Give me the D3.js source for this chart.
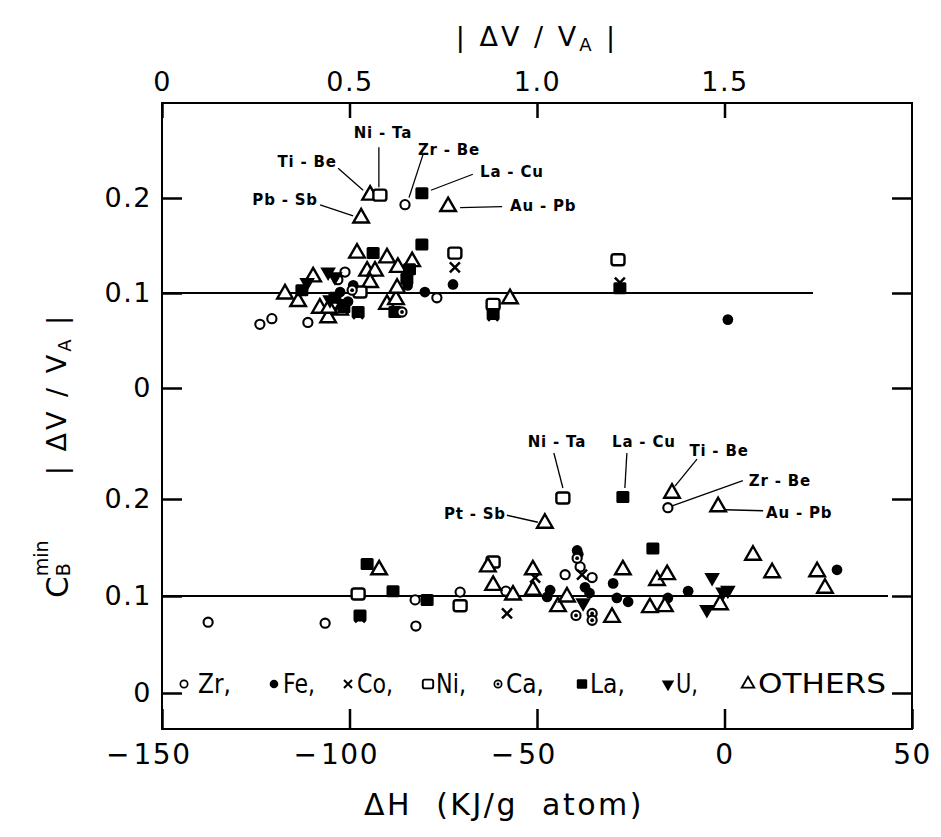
<!DOCTYPE html>
<html>
<head>
<meta charset="utf-8">
<script src="https://cdn.jsdelivr.net/npm/d3@7"></script>
<style>
  body { margin: 0; background: #fff; }
  text { font-family: "DejaVu Sans", sans-serif; fill: #000; }
</style>
</head>
<body>
<div id="chart"></div>
<script>
// ---- data ----
// upper panel: [ |dV/VA| , CB min , solvent ]
const upperPoints = [
  [0.555, 0.203, "Other"], [0.531, 0.179, "Other"], [0.763, 0.191, "Other"],
  [0.520, 0.142, "Other"], [0.600, 0.137, "Other"], [0.629, 0.127, "Other"],
  [0.667, 0.133, "Other"], [0.403, 0.117, "Other"], [0.547, 0.123, "Other"],
  [0.568, 0.123, "Other"], [0.555, 0.111, "Other"], [0.328, 0.099, "Other"],
  [0.363, 0.091, "Other"], [0.600, 0.088, "Other"], [0.624, 0.093, "Other"],
  [0.627, 0.105, "Other"], [0.475, 0.082, "Other"], [0.443, 0.074, "Other"],
  [0.421, 0.084, "Other"], [0.445, 0.084, "Other"], [0.928, 0.094, "Other"],
  [0.581, 0.203, "Ni"], [0.528, 0.101, "Ni"], [0.781, 0.142, "Ni"],
  [0.883, 0.088, "Ni"], [1.216, 0.135, "Ni"],
  [0.648, 0.193, "Zr"], [0.488, 0.122, "Zr"], [0.469, 0.114, "Zr"],
  [0.733, 0.095, "Zr"], [0.261, 0.067, "Zr"], [0.293, 0.073, "Zr"],
  [0.389, 0.069, "Zr"],
  [0.701, 0.101, "Fe"], [0.776, 0.109, "Fe"], [1.509, 0.072, "Fe"],
  [0.475, 0.101, "Fe"], [0.496, 0.091, "Fe"], [0.510, 0.108, "Fe"],
  [0.655, 0.108, "Fe"],
  [0.693, 0.205, "La"], [0.563, 0.142, "La"], [0.693, 0.151, "La"],
  [0.653, 0.115, "La"], [0.660, 0.125, "La"], [0.373, 0.103, "La"],
  [0.461, 0.095, "La"], [0.621, 0.080, "La"], [0.485, 0.085, "La"],
  [0.523, 0.080, "La"], [1.221, 0.105, "La"], [0.883, 0.078, "La"],
  [0.523, 0.078, "Co"], [0.781, 0.127, "Co"], [0.883, 0.076, "Co"],
  [1.221, 0.111, "Co"], [0.475, 0.087, "Co"],
  [0.640, 0.080, "Ca"], [0.507, 0.103, "Ca"],
  [0.443, 0.122, "U"], [0.461, 0.117, "U"], [0.387, 0.111, "U"],
  [0.488, 0.089, "U"], [0.448, 0.093, "U"]
];

// lower panel: [ dH (kJ/g atom) , CB min , solvent ]
const lowerPoints = [
  [-43.1, 0.201, "Ni"], [-27.1, 0.202, "La"], [-14.0, 0.206, "Other"],
  [-15.1, 0.191, "Zr"], [-1.7, 0.192, "Other"], [-47.9, 0.175, "Other"],
  [-137.7, 0.073, "Zr"], [-106.5, 0.072, "Zr"], [-82.5, 0.096, "Zr"],
  [-82.3, 0.069, "Zr"], [-70.5, 0.104, "Zr"], [-58.3, 0.105, "Zr"],
  [-42.5, 0.122, "Zr"], [-38.5, 0.130, "Zr"], [-35.3, 0.119, "Zr"],
  [-47.3, 0.099, "Fe"], [-46.5, 0.106, "Fe"], [-39.3, 0.147, "Fe"],
  [-39.0, 0.143, "Fe"], [-37.2, 0.109, "Fe"], [-36.0, 0.103, "Fe"],
  [-29.7, 0.113, "Fe"], [-28.7, 0.098, "Fe"], [-25.7, 0.094, "Fe"],
  [-15.1, 0.098, "Fe"], [-9.7, 0.105, "Fe"], [30.0, 0.127, "Fe"],
  [-58.0, 0.082, "Co"], [-38.0, 0.122, "Co"], [-50.5, 0.119, "Co"],
  [-97.2, 0.078, "Co"],
  [-97.7, 0.102, "Ni"], [-70.5, 0.090, "Ni"], [-61.7, 0.135, "Ni"],
  [-39.3, 0.139, "Ca"], [-39.6, 0.080, "Ca"], [-35.3, 0.082, "Ca"],
  [-35.3, 0.075, "Ca"],
  [-95.3, 0.133, "La"], [-88.4, 0.105, "La"], [-79.3, 0.096, "La"],
  [-19.1, 0.149, "La"], [-97.2, 0.080, "La"],
  [-3.3, 0.119, "U"], [-0.4, 0.104, "U"], [0.9, 0.106, "U"],
  [-4.7, 0.086, "U"], [-37.7, 0.093, "U"],
  [-92.1, 0.127, "Other"], [-63.1, 0.130, "Other"], [-61.7, 0.111, "Other"],
  [-56.4, 0.101, "Other"], [-51.1, 0.127, "Other"], [-51.1, 0.106, "Other"],
  [-44.4, 0.089, "Other"], [-42.0, 0.099, "Other"], [-27.1, 0.127, "Other"],
  [-30.0, 0.078, "Other"], [-19.9, 0.088, "Other"], [-18.0, 0.116, "Other"],
  [-15.3, 0.122, "Other"], [-15.9, 0.089, "Other"], [-1.2, 0.091, "Other"],
  [7.6, 0.142, "Other"], [12.7, 0.124, "Other"], [24.7, 0.125, "Other"],
  [26.8, 0.108, "Other"]
];

// labelled systems: [ text, x value, CB min ]
const upperNotes = [
  ["Ni - Ta", 0.581, 0.203], ["Ti - Be", 0.555, 0.203], ["Pb - Sb", 0.531, 0.179],
  ["Zr - Be", 0.648, 0.193], ["La - Cu", 0.693, 0.205], ["Au - Pb", 0.763, 0.191]
];
const lowerNotes = [
  ["Pt - Sb", -47.9, 0.175], ["Ni - Ta", -43.1, 0.201], ["La - Cu", -27.1, 0.202],
  ["Ti - Be", -14.0, 0.206], ["Zr - Be", -15.1, 0.191], ["Au - Pb", -1.7, 0.192]
];

// fitted CB min level lines: [ from, to, CB min ]
const upperLevel = [0, 1.736, 0.1];
const lowerLevel = [-150, 43.6, 0.1];

const topTicks = [0, 0.5, 1.0, 1.5];
const topTickLabels = ["0", "0.5", "1.0", "1.5"];
const bottomTicks = [-150, -100, -50, 0, 50];
const cTicks = [0, 0.1, 0.2];
const cTickLabels = ["0", "0.1", "0.2"];

const legendTypes = ["Zr", "Fe", "Co", "Ni", "Ca", "La", "U", "Other"];
const legendNames = ["Zr,", "Fe,", "Co,", "Ni,", "Ca,", "La,", "U,", "OTHERS"];

// ---- layout ----
const W = 941, H = 837;
const frame = { left: 162, right: 912, top: 103, bottom: 729 };

const svg = d3.select("#chart").append("svg")
    .attr("width", W).attr("height", H);

const xTop = d3.scaleLinear().domain([0, 2]).range([frame.left, frame.right]);
const xBot = d3.scaleLinear().domain([-150, 50]).range([frame.left, frame.right]);
const yUp = d3.scaleLinear().domain([0, 0.2]).range([388, 198]);
const yLo = d3.scaleLinear().domain([0, 0.2]).range([693, 499]);

// marker drawing
const tri = d3.symbol().type(d3.symbolTriangle).size(105)();
const circ = d3.symbol().type(d3.symbolCircle).size(66)();
const dot = d3.symbol().type(d3.symbolCircle).size(90)();
function marker(g, type) {
  if (type === "Zr") {
    g.append("path").attr("d", circ).attr("fill", "#fff").attr("stroke", "#000").attr("stroke-width", 2.1);
  } else if (type === "Fe") {
    g.append("path").attr("d", dot).attr("fill", "#000");
  } else if (type === "Co") {
    g.append("path").attr("d", "M-5,-5L5,5M-5,5L5,-5").attr("stroke", "#000").attr("stroke-width", 2.5);
  } else if (type === "Ni") {
    g.append("rect").attr("x", -6.5).attr("y", -5.5).attr("width", 13).attr("height", 11).attr("rx", 2.5)
      .attr("fill", "#fff").attr("stroke", "#000").attr("stroke-width", 2.4);
  } else if (type === "Ca") {
    g.append("path").attr("d", circ).attr("fill", "#fff").attr("stroke", "#000").attr("stroke-width", 2.1);
    g.append("circle").attr("r", 1.9).attr("fill", "#000");
  } else if (type === "La") {
    g.append("rect").attr("x", -6.5).attr("y", -6).attr("width", 13).attr("height", 12).attr("rx", 1.5).attr("fill", "#000");
  } else if (type === "U") {
    g.append("path").attr("d", tri).attr("transform", "rotate(180)").attr("fill", "#000");
  } else {
    g.append("path").attr("d", tri).attr("fill", "#fff").attr("stroke", "#000").attr("stroke-width", 2.4);
  }
}

// level lines
svg.append("line")
    .attr("x1", xTop(upperLevel[0])).attr("x2", xTop(upperLevel[1]))
    .attr("y1", yUp(upperLevel[2])).attr("y2", yUp(upperLevel[2]))
    .attr("stroke", "#000").attr("stroke-width", 2);
svg.append("line")
    .attr("x1", xBot(lowerLevel[0])).attr("x2", xBot(lowerLevel[1]))
    .attr("y1", yLo(lowerLevel[2])).attr("y2", yLo(lowerLevel[2]))
    .attr("stroke", "#000").attr("stroke-width", 2);

// frame
svg.append("rect")
    .attr("x", frame.left).attr("y", frame.top)
    .attr("width", frame.right - frame.left).attr("height", frame.bottom - frame.top)
    .attr("fill", "none").attr("stroke", "#000").attr("stroke-width", 2);

function styleAxis(g, size) {
  g.select(".domain").remove();
  g.selectAll(".tick line").attr("stroke", "#000").attr("stroke-width", 2.5);
  g.selectAll(".tick text").attr("font-size", size).attr("letter-spacing", 1.5)
      .style("font-family", "DejaVu Sans");
}

// top axis |dV/VA|
const gTop = svg.append("g").attr("transform", `translate(0,${frame.top})`)
    .call(d3.axisTop(xTop).tickValues(topTicks).tickSize(-15).tickPadding(12)
      .tickFormat((d, i) => topTickLabels[i]));
styleAxis(gTop, 27);

// bottom axis dH
const gBot = svg.append("g").attr("transform", `translate(0,${frame.bottom})`)
    .call(d3.axisBottom(xBot).tickValues(bottomTicks).tickSize(-20).tickPadding(8)
      .tickFormat(d => Math.abs(d)));
styleAxis(gBot, 28);
gBot.selectAll(".tick text").attr("dy", "0.95em");
gBot.selectAll(".tick").each(function(d) {
  if (d >= 0) return;
  const t = d3.select(this).select("text");
  const w = t.node().getComputedTextLength();
  d3.select(this).append("text")
      .attr("x", -w / 2 - 4).attr("y", 8).attr("dy", "0.95em")
      .attr("text-anchor", "end").attr("font-size", 28)
      .text("\u2212");
});

// left and right axes, both panels
[yUp, yLo].forEach(y => {
  const gl = svg.append("g").attr("transform", `translate(${frame.left},0)`)
      .call(d3.axisLeft(y).tickValues(cTicks).tickSize(-20).tickPadding(10)
        .tickFormat((d, i) => cTickLabels[i]));
  styleAxis(gl, 27);
  const gr = svg.append("g").attr("transform", `translate(${frame.right},0)`)
      .call(d3.axisRight(y).tickValues(cTicks).tickSize(-20).tickFormat(""));
  styleAxis(gr, 27);
});

// points
function drawPoints(data, x, y) {
  svg.append("g").selectAll("g.pt")
    .data(data)
    .enter().append("g")
      .attr("class", "pt")
      .attr("transform", d => `translate(${x(d[0])},${y(d[1])})`)
      .each(function(d) { marker(d3.select(this), d[2]); });
}
drawPoints(upperPoints, xTop, yUp);
drawPoints(lowerPoints, xBot, yLo);

// annotation placement: text centre offset and leader offsets (px, from the point)
const upperNoteLayout = {
  "Ni - Ta": { t: [3, -63], l: [-1, -48, -1, -8] },
  "Ti - Be": { t: [-63, -34], l: [-32, -27, -7, -5] },
  "Pb - Sb": { t: [-76, -19], l: [-41, -13, -8, -2] },
  "Zr - Be": { t: [44, -56], l: [18, -50, 4, -7] },
  "La - Cu": { t: [90, -22], l: [51, -19, 9, -3] },
  "Au - Pb": { t: [95, -2], l: [12, 1, 54, 0] }
};
const lowerNoteLayout = {
  "Pt - Sb": { t: [-70, -10], l: [-38, -8, -7, -1] },
  "Ni - Ta": { t: [-6, -57], l: [-9, -45, 0, -10] },
  "La - Cu": { t: [21, -56], l: [4, -44, 2, -9] },
  "Ti - Be": { t: [47, -43], l: [25, -34, 3, -7] },
  "Zr - Be": { t: [112, -28], l: [75, -27, 5, -2] },
  "Au - Pb": { t: [81, 5], l: [7, 3, 45, 4] }
};
function drawNotes(notes, layout, x, y) {
  notes.forEach(n => {
    const px = x(n[1]), py = y(n[2]), L = layout[n[0]];
    svg.append("line")
        .attr("x1", px + L.l[0]).attr("y1", py + L.l[1])
        .attr("x2", px + L.l[2]).attr("y2", py + L.l[3])
        .attr("stroke", "#000").attr("stroke-width", 1.3);
    svg.append("text")
        .attr("x", px + L.t[0]).attr("y", py + L.t[1] + 6)
        .attr("text-anchor", "middle")
        .attr("font-size", 15).attr("font-weight", "bold")
        .attr("letter-spacing", 0.8)
        .text(n[0]);
  });
}
drawNotes(upperNotes, upperNoteLayout, xTop, yUp);
drawNotes(lowerNotes, lowerNoteLayout, xBot, yLo);

// legend along the lower CB = 0 level
const legendX = [184, 274, 348, 428, 498, 582, 668, 748];
const legendTextX = [198, 283, 357, 436, 506, 590, 676, 758];
const legendTextW = [33, 32, 36, 30, 38, 35, 22, 128];
const legendY = yLo(0);
legendTypes.forEach((t, i) => {
  const g = svg.append("g").attr("transform", `translate(${legendX[i]},${legendY - 9}) scale(0.8)`);
  marker(g, t);
  svg.append("text")
      .attr("x", legendTextX[i]).attr("y", legendY)
      .attr("font-size", 26)
      .attr("textLength", legendTextW[i]).attr("lengthAdjust", "spacingAndGlyphs")
      .text(legendNames[i]);
});

// axis titles
const topTitle = svg.append("text")
    .attr("x", (frame.left + frame.right) / 2).attr("y", 46)
    .attr("text-anchor", "middle").attr("font-size", 27).attr("letter-spacing", 3);
topTitle.append("tspan").text("| \u0394V / V");
topTitle.append("tspan").attr("font-size", 18).attr("dy", 5).text("A");
topTitle.append("tspan").attr("dy", -5).text(" |");

svg.append("text")
    .attr("x", 504).attr("y", 815)
    .attr("text-anchor", "middle").attr("font-size", 30).attr("letter-spacing", 2.5)
    .style("white-space", "pre")
    .text("\u0394H  (KJ/g  atom)");

const sideTitle = svg.append("text")
    .attr("transform", "translate(66,394) rotate(-90)")
    .attr("text-anchor", "middle").attr("font-size", 27).attr("letter-spacing", 3);
sideTitle.append("tspan").text("| \u0394V / V");
sideTitle.append("tspan").attr("font-size", 18).attr("dy", 5).text("A");
sideTitle.append("tspan").attr("dy", -5).text(" |");

const cbTitle = svg.append("text")
    .attr("transform", "translate(68,598) rotate(-90)")
    .attr("font-size", 31);
cbTitle.append("tspan").text("C");
cbTitle.append("tspan").attr("font-size", 19).attr("dy", 2).text("B");
cbTitle.append("tspan").attr("font-size", 19).attr("dx", -13).attr("dy", -22).text("min");
</script>
</body>
</html>
